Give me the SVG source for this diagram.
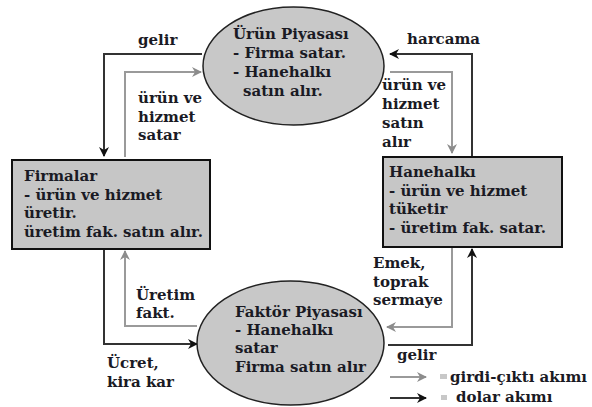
<svg xmlns="http://www.w3.org/2000/svg" width="592" height="407" viewBox="0 0 592 407">
<defs>
<marker id="ab" viewBox="0 0 10 10" refX="9" refY="5" markerWidth="10" markerHeight="10" markerUnits="userSpaceOnUse" orient="auto"><path d="M0,0 L10,5 L0,10 L3,5 Z" fill="#111"/></marker>
<marker id="ag" viewBox="0 0 10 10" refX="9" refY="5" markerWidth="10" markerHeight="10" markerUnits="userSpaceOnUse" orient="auto"><path d="M0,0 L10,5 L0,10 L3,5 Z" fill="#8c8c8c"/></marker>
</defs>
<style>
text{font-weight:bold;font-size:15px;fill:#1a1a24}
.shape{fill:#c8c8c8;stroke:#222;stroke-width:1.5}
.box{fill:#c6c6c6;stroke:#111;stroke-width:2}
.blk{fill:none;stroke:#333;stroke-width:2;marker-end:url(#ab)}
.gry{fill:none;stroke:#9a9a9a;stroke-width:2;marker-end:url(#ag)}
</style>
<rect width="592" height="407" fill="#fff"/>
<g id="connectors">
<polyline class="blk" points="202,54 104,54 104,156"/>
<polyline class="gry" points="125,157 125,72 201,72"/>
<polyline class="blk" points="472,157 472,54 390,54"/>
<polyline class="gry" points="390,72 452,72 452,153"/>
<polyline class="blk" points="104,250 104,344 197,344"/>
<polyline class="gry" points="197,326 125,326 125,251"/>
<polyline class="gry" points="452,248 452,327 387,327"/>
<polyline class="blk" points="388,345 472,345 472,249"/>
</g>
<g font-family="'DejaVu Serif', 'Liberation Serif', serif">
<g id="urun-piyasasi">
<ellipse class="shape" cx="293.5" cy="66" rx="90.5" ry="59"/>
<text x="233" y="39">Ürün Piyasası</text>
<text x="233" y="58">- Firma satar.</text>
<text x="233" y="77">- Hanehalkı</text>
<text x="243" y="96">satın alır.</text>
</g>
<g id="firmalar">
<rect class="box" x="12" y="160" width="198" height="89"/>
<text x="24" y="181">Firmalar</text>
<text x="24" y="200">- ürün ve hizmet</text>
<text x="24" y="218">üretir.</text>
<text x="24" y="237">üretim fak. satın alır.</text>
</g>
<g id="hanehalki">
<rect class="box" x="383" y="157" width="179" height="90"/>
<text x="389" y="177">Hanehalkı</text>
<text x="389" y="196">- ürün ve hizmet</text>
<text x="389" y="214">tüketir</text>
<text x="389" y="233">- üretim fak. satar.</text>
</g>
<g id="faktor-piyasasi">
<ellipse class="shape" cx="290.5" cy="343" rx="93.5" ry="62"/>
<text x="235" y="317">Faktör Piyasası</text>
<text x="235" y="335">- Hanehalkı</text>
<text x="235" y="353">satar</text>
<text x="235" y="372">Firma satın alır</text>
</g>
<g id="labels">
<text x="138" y="45">gelir</text>
<text x="138" y="103">ürün ve</text>
<text x="138" y="122">hizmet</text>
<text x="138" y="140">satar</text>
<text x="407" y="44">harcama</text>
<text x="382" y="90">ürün ve</text>
<text x="382" y="109">hizmet</text>
<text x="382" y="128">satın</text>
<text x="382" y="147">alır</text>
<text x="373" y="268">Emek,</text>
<text x="373" y="287">toprak</text>
<text x="373" y="305">sermaye</text>
<text x="136" y="300">Üretim</text>
<text x="136" y="318">fakt.</text>
<text x="107" y="368">Ücret,</text>
<text x="107" y="387">kira kar</text>
<text x="397" y="360">gelir</text>
</g>
<g id="legend">
<line x1="390" y1="377" x2="426" y2="377" class="gry"/>
<rect x="440" y="374" width="7" height="5" fill="#c8c8c8"/>
<text x="450" y="382">girdi-çıktı akımı</text>
<line x1="390" y1="398" x2="426" y2="398" class="blk"/>
<rect x="441" y="395" width="6" height="5" fill="#c8c8c8"/>
<text x="456" y="402">dolar akımı</text>
</g>
</g>
</svg>
